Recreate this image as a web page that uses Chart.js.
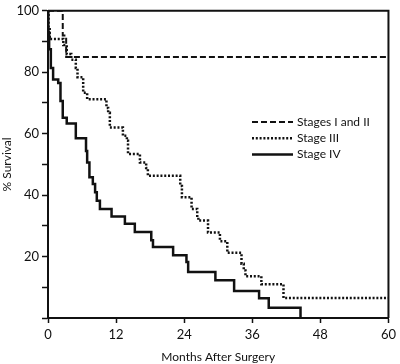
<!DOCTYPE html>
<html><head><meta charset="utf-8">
<script src="https://cdn.jsdelivr.net/npm/chart.js@4.4.1/dist/chart.umd.min.js"></script>
<style>html,body{margin:0;padding:0;background:#fff}</style>
</head><body>
<canvas id="c" width="400" height="364"></canvas>
<script>
// ---- data ----
const seriesLabels = ['Stages I and II', 'Stage III', 'Stage IV'];
const xTickValues = [0, 12, 24, 36, 48, 60];
const yTickLabels = [20, 40, 60, 80, 100];
const xTitle = 'Months After Surgery';
const yTitle = '% Survival';

// each point: month at which survival drops, survival after the drop
const stage12Months = [0, 2.6, 3.2, 60];
const stage12Pct    = [100, 92, 85, 85];

const stage3Months = [0, 0.1, 0.3, 2.7, 3.3, 4.1, 4.9, 5.2, 6.2, 6.9, 10.3, 10.6, 10.9, 13.2, 13.9, 14.1, 16.2, 17.3, 17.6, 23.3, 23.6, 25.3, 26.3, 26.5, 28.2, 30.3, 31.6, 34.1, 34.5, 34.8, 37.6, 41.5, 60];
const stage3Pct    = [100, 94, 90.8, 88.9, 85.9, 84.1, 81.4, 78.4, 73.3, 71.2, 68.4, 66.8, 62.0, 59.3, 57.7, 53.4, 50.6, 48.8, 46.3, 43, 39.3, 35.5, 32.7, 31.7, 27.8, 25.0, 21.2, 17.7, 15.5, 13.6, 11.0, 6.5, 6.5];

const stage4Months = [0, 0.05, 0.2, 0.5, 0.9, 1.8, 2.2, 2.6, 3.3, 4.9, 6.7, 6.9, 7.3, 7.9, 8.3, 8.6, 9.15, 11.2, 13.55, 15.3, 18.2, 18.5, 22.05, 24.4, 24.7, 29.5, 32.8, 37.2, 38.9, 44.5];
const stage4Pct    = [100, 93, 87.5, 81.4, 77.6, 76.5, 70.6, 65.2, 63.3, 58.5, 54.4, 50.6, 45.8, 43.6, 40.9, 38.2, 35.5, 33.0, 30.7, 28.0, 25.3, 23.1, 20.4, 18.2, 15.0, 12.3, 8.8, 6.4, 3.3, 0];

const toPts = (xs, ys) => xs.map((x, i) => ({x: x, y: ys[i]}));

const FONT = 'Lato, "Open Sans", sans-serif';
const INK = '#111';

const frameAndLegend = {
  id: 'frameAndLegend',
  afterDraw(chart) {
    const ctx = chart.ctx, a = chart.chartArea;
    ctx.save();
    ctx.strokeStyle = INK;
    ctx.lineWidth = 2;
    ctx.setLineDash([]);
    ctx.beginPath();
    ctx.moveTo(a.left, a.top);
    ctx.lineTo(a.right, a.top);
    ctx.lineTo(a.right, a.bottom);
    ctx.stroke();
    // legend inside plot
    const x0 = 252, x1 = 293, tx = 297, y0 = 122, dy = 16.3;
    chart.data.datasets.forEach((ds, i) => {
      const y = y0 + i * dy;
      ctx.strokeStyle = ds.borderColor;
      ctx.lineWidth = ds.borderWidth;
      ctx.setLineDash(ds.borderDash || []);
      ctx.beginPath();
      ctx.moveTo(x0, y);
      ctx.lineTo(x1, y);
      ctx.stroke();
      ctx.setLineDash([]);
      ctx.fillStyle = INK;
      ctx.font = '12px ' + FONT;
      ctx.textBaseline = 'middle';
      ctx.textAlign = 'left';
      ctx.fillText(ds.label, tx, y);
    });
    ctx.restore();
  }
};

new Chart(document.getElementById('c'), {
  type: 'line',
  data: {
    datasets: [
      {label: seriesLabels[0], data: toPts(stage12Months, stage12Pct), borderColor: INK, borderWidth: 2, borderDash: [6, 3], stepped: 'before', pointRadius: 0, fill: false},
      {label: seriesLabels[1], data: toPts(stage3Months, stage3Pct), borderColor: INK, borderWidth: 2.5, borderDash: [2, 1.8], stepped: 'before', pointRadius: 0, fill: false},
      {label: seriesLabels[2], data: toPts(stage4Months, stage4Pct), borderColor: INK, borderWidth: 2.5, stepped: 'before', pointRadius: 0, fill: false}
    ]
  },
  options: {
    responsive: false,
    animation: false,
    layout: {padding: {top: 9, right: 11, left: 0, bottom: 0}},
    plugins: {legend: {display: false}, tooltip: {enabled: false}},
    scales: {
      x: {
        type: 'linear', min: 0, max: 60,
        afterBuildTicks: s => { s.ticks = xTickValues.map(v => ({value: v})); },
        ticks: {color: INK, font: {family: FONT, size: 13}, padding: 4, maxRotation: 0},
        grid: {drawOnChartArea: false, drawTicks: true, tickLength: 5, tickColor: INK, tickWidth: 1.5},
        border: {color: INK, width: 2},
        title: {display: true, text: xTitle, color: INK, font: {family: FONT, size: 12}, padding: {top: 7, bottom: 0}},
        afterFit: s => { s.height = 46; }
      },
      y: {
        type: 'linear', min: 0, max: 100,
        ticks: {stepSize: 10, color: INK, font: {family: FONT, size: 13}, padding: 3,
          callback: v => yTickLabels.includes(v) ? String(v) : ''},
        grid: {drawOnChartArea: false, drawTicks: true, tickLength: 6, tickColor: INK, tickWidth: 1.5},
        border: {color: INK, width: 2},
        title: {display: true, text: yTitle, color: INK, font: {family: FONT, size: 12}, padding: {top: 0, bottom: 2}},
        afterFit: s => { s.width = 48; }
      }
    }
  },
  plugins: [frameAndLegend]
});
</script>
</body></html>
